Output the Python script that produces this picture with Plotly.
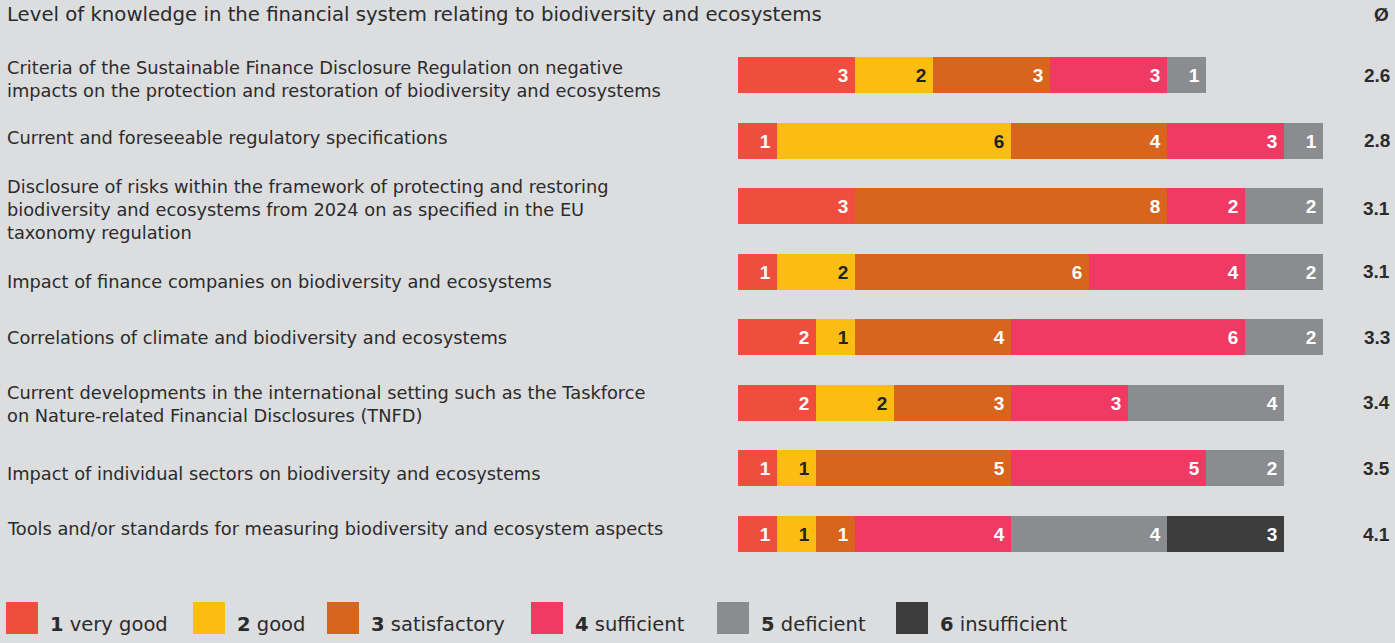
import plotly.graph_objects as go

# Survey topics (top to bottom)
topics = [
    "Criteria of the Sustainable Finance Disclosure Regulation on negative<br>impacts on the protection and restoration of biodiversity and ecosystems",
    "Current and foreseeable regulatory specifications",
    "Disclosure of risks within the framework of protecting and restoring<br>biodiversity and ecosystems from 2024 on as specified in the EU<br>taxonomy regulation",
    "Impact of finance companies on biodiversity and ecosystems",
    "Correlations of climate and biodiversity and ecosystems",
    "Current developments in the international setting such as the Taskforce<br>on Nature-related Financial Disclosures (TNFD)",
    "Impact of individual sectors on biodiversity and ecosystems",
    "Tools and/or standards for measuring biodiversity and ecosystem aspects",
]

# Number of answers per grade
grade_1 = [3, 1, 3, 1, 2, 2, 1, 1]
grade_2 = [2, 6, 0, 2, 1, 2, 1, 1]
grade_3 = [3, 4, 8, 6, 4, 3, 5, 1]
grade_4 = [3, 3, 2, 4, 6, 3, 5, 4]
grade_5 = [1, 1, 2, 2, 2, 4, 2, 4]
grade_6 = [0, 0, 0, 0, 0, 0, 0, 3]

averages = ["2.6", "2.8", "3.1", "3.1", "3.3", "3.4", "3.5", "4.1"]

grade_numbers = ["1", "2", "3", "4", "5", "6"]
grade_names = ["very good", "good", "satisfactory", "sufficient", "deficient", "insufficient"]
grade_colors = ["#ef4d3d", "#fcbd13", "#d8651b", "#ef3b63", "#8b8c8f", "#3d3d3d"]
text_colors = ["white", "#222222", "white", "white", "white", "white"]

series = [grade_1, grade_2, grade_3, grade_4, grade_5, grade_6]

W, H = 1395, 643
BG = "#dcdddf"
TEXT_FONT = "DejaVu Sans, Verdana, sans-serif"
NUM_FONT = "Liberation Sans, Arial, sans-serif"

rows = list(range(len(topics)))

fig = go.Figure()
for vals, num, name, col, tcol in zip(series, grade_numbers, grade_names, grade_colors, text_colors):
    fig.add_trace(go.Bar(
        x=[v if v else None for v in vals],
        y=rows,
        orientation="h",
        name=f"{num} {name}",
        marker=dict(color=col, line=dict(width=0)),
        text=[str(v) if v else "" for v in vals],
        texttemplate="%{text}\u2009",
        textposition="inside",
        insidetextanchor="end",
        textangle=0,
        textfont=dict(family=NUM_FONT, size=19, color=tcol, weight="bold"),
        width=0.55,
        hoverinfo="skip",
        showlegend=False,
    ))

# Pixel geometry: bars start at x=738, 39 px per answer
x0_px, unit_px = 738, 39.0
x_range = [0, (W - x0_px) / unit_px]
# Rows: first row centre at y=75 px, last at y=534 px
row_px = (534 - 75) / 7
y_top = -75 / row_px
y_bottom = y_top + H / row_px

annotations = []
# Title and average column header
annotations.append(dict(
    x=5 / W, y=1 - 15 / H, xref="paper", yref="paper", xanchor="left", yanchor="middle",
    text="Level of knowledge in the financial system relating to biodiversity and ecosystems",
    showarrow=False, font=dict(family=TEXT_FONT, size=19.7, color="#2b2b2b"),
))
annotations.append(dict(
    x=1391 / W, y=1 - 15 / H, xref="paper", yref="paper", xanchor="right", yanchor="middle",
    text="<b>Ø</b>", showarrow=False, font=dict(family=NUM_FONT, size=19, color="#2b2b2b"),
))

label_shift = [-3.5, 3, -3.5, -10, 0, -1, -5, 6]
avg_shift = [0, 0, -2, 0, 0, 0, 0, 0]
for i, (t, a) in enumerate(zip(topics, averages)):
    annotations.append(dict(
        x=5 / W, y=i, xref="paper", yref="y", xanchor="left", yanchor="middle",
        text=t, align="left", showarrow=False, yshift=label_shift[i],
        font=dict(family=TEXT_FONT, size=17.8, color="#2b2b2b"),
    ))
    annotations.append(dict(
        x=1392 / W, y=i, xref="paper", yref="y", xanchor="right", yanchor="middle",
        text=f"<b>{a}</b>", showarrow=False, yshift=avg_shift[i],
        font=dict(family=NUM_FONT, size=19, color="#2b2b2b"),
    ))

# Legend drawn as swatches with labels
shapes = []
legend_x = [6, 193, 327, 531, 717, 896]
for lx, num, name, col in zip(legend_x, grade_numbers, grade_names, grade_colors):
    shapes.append(dict(
        type="rect", xref="paper", yref="paper",
        x0=lx / W, x1=(lx + 32) / W, y0=1 - 634 / H, y1=1 - 602 / H,
        fillcolor=col, line=dict(width=0),
    ))
    annotations.append(dict(
        x=(lx + 42) / W, y=1 - 624 / H, xref="paper", yref="paper",
        xanchor="left", yanchor="middle", showarrow=False,
        text=f"<b>{num}</b> {name}",
        font=dict(family=TEXT_FONT, size=19.5, color="#2b2b2b"),
    ))

fig.update_layout(
    width=W, height=H,
    margin=dict(l=0, r=0, t=0, b=0),
    paper_bgcolor=BG, plot_bgcolor=BG,
    barmode="stack",
    bargap=0,
    uniformtext=dict(minsize=17, mode="show"),
    xaxis=dict(domain=[x0_px / W, 1], range=x_range, visible=False, fixedrange=True),
    yaxis=dict(range=[y_bottom, y_top], visible=False, fixedrange=True),
    annotations=annotations,
    shapes=shapes,
    showlegend=False,
)

fig.write_html("out.html", config={"displayModeBar": False})
